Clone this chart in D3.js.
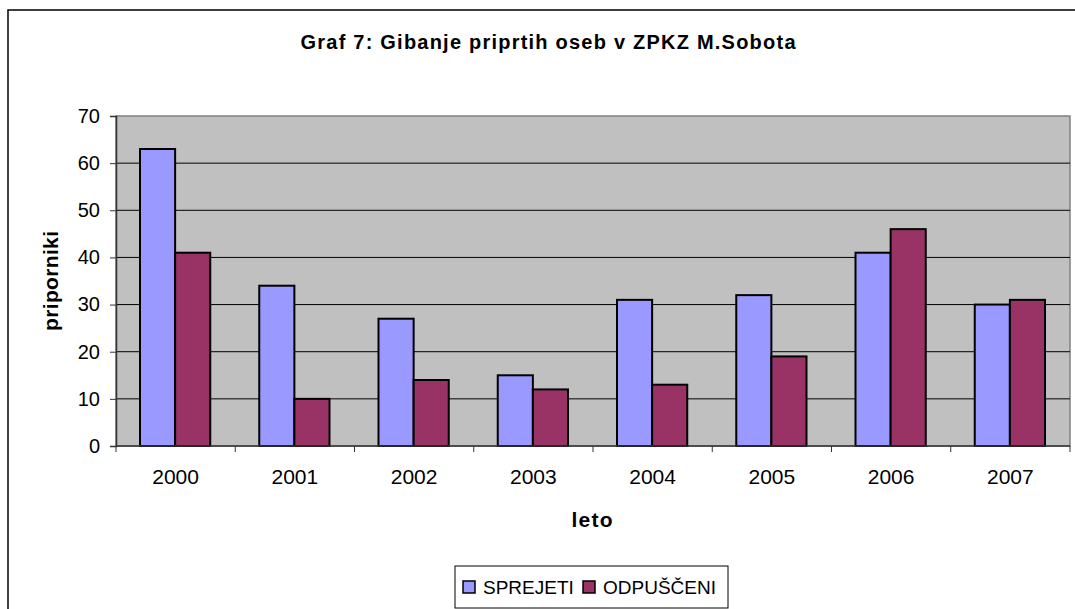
<!DOCTYPE html>
<html>
<head>
<meta charset="utf-8">
<script src="https://cdn.jsdelivr.net/npm/d3@7"></script>
<style>
  body { margin: 0; background: #fff; }
  text { font-family: Arial, "Liberation Sans", sans-serif; fill: #000; }
</style>
</head>
<body>
<div id="chart"></div>
<script>
// chart data
const years = ['2000', '2001', '2002', '2003', '2004', '2005', '2006', '2007'];
const seriesNames = ['SPREJETI', 'ODPUŠČENI'];
const sprejeti = [63, 34, 27, 15, 31, 32, 41, 30];
const odpusceni = [41, 10, 14, 12, 13, 19, 46, 31];
const yTicks = [0, 10, 20, 30, 40, 50, 60, 70];
const colors = ['#9999ff', '#993366'];

const width = 1075, height = 609;
const plot = { left: 116, top: 116, right: 1070, bottom: 446 };

const svg = d3.select('#chart').append('svg')
    .attr('width', width)
    .attr('height', height);

// outer chart frame (runs off the right and bottom edge)
svg.append('rect')
    .attr('x', 8).attr('y', 10)
    .attr('width', 1100).attr('height', 700)
    .attr('fill', '#fff')
    .attr('stroke', '#000')
    .attr('stroke-width', 1.5);

const x = d3.scaleBand()
    .domain(years)
    .range([plot.left, plot.right]);

const xInner = d3.scaleBand()
    .domain(seriesNames)
    .range([24, x.bandwidth() - 25]);

const y = d3.scaleLinear()
    .domain([0, 70])
    .range([plot.bottom, plot.top]);

// plot background
svg.append('rect')
    .attr('x', plot.left).attr('y', plot.top)
    .attr('width', plot.right - plot.left)
    .attr('height', plot.bottom - plot.top)
    .attr('fill', '#c0c0c0')
    .attr('stroke', '#808080')
    .attr('stroke-width', 1.5);

// gridlines
svg.append('g')
    .selectAll('line')
    .data(yTicks.filter(d => d > 0 && d < 70))
    .join('line')
    .attr('x1', plot.left).attr('x2', plot.right)
    .attr('y1', d => y(d)).attr('y2', d => y(d))
    .attr('stroke', '#000')
    .attr('stroke-width', 1);

// bars
const rows = years.map((yr, i) => ({ year: yr, values: [sprejeti[i], odpusceni[i]] }));
svg.append('g')
    .selectAll('g')
    .data(rows)
    .join('g')
    .attr('transform', d => `translate(${x(d.year)},0)`)
    .selectAll('rect')
    .data(d => d.values.map((v, j) => ({ name: seriesNames[j], value: v, idx: j })))
    .join('rect')
    .attr('x', d => xInner(d.name))
    .attr('y', d => y(d.value))
    .attr('width', xInner.bandwidth())
    .attr('height', d => plot.bottom - y(d.value))
    .attr('fill', d => colors[d.idx])
    .attr('stroke', '#000')
    .attr('stroke-width', 2);

// y axis
const yAxis = svg.append('g')
    .attr('transform', `translate(${plot.left},0)`)
    .call(d3.axisLeft(y).tickValues(yTicks).tickSize(6).tickPadding(10));
yAxis.select('.domain').attr('stroke', '#333').attr('stroke-width', 1.5);
yAxis.selectAll('.tick line').attr('stroke', '#333');
yAxis.selectAll('.tick text')
    .style('font-size', '20px')
    .style('font-family', 'Arial, "Liberation Sans", sans-serif');

// x axis
const xTickPos = years.map(yr => x(yr)).concat([plot.right]);
const xAxis = svg.append('g');
xAxis.append('line')
    .attr('x1', plot.left).attr('x2', plot.right)
    .attr('y1', plot.bottom).attr('y2', plot.bottom)
    .attr('stroke', '#333').attr('stroke-width', 1.5);
xAxis.selectAll('line.tick')
    .data(xTickPos)
    .join('line')
    .attr('class', 'tick')
    .attr('x1', d => d).attr('x2', d => d)
    .attr('y1', plot.bottom).attr('y2', plot.bottom + 6)
    .attr('stroke', '#333');
xAxis.selectAll('text')
    .data(years)
    .join('text')
    .attr('x', d => x(d) + x.bandwidth() / 2)
    .attr('y', 484)
    .attr('text-anchor', 'middle')
    .style('font-size', '21px')
    .text(d => d);

// title
svg.append('text')
    .attr('x', 548).attr('y', 49)
    .attr('text-anchor', 'middle')
    .attr('textLength', 495)
    .style('font-size', '20px')
    .style('font-weight', 'bold')
    .text('Graf 7: Gibanje priprtih oseb v ZPKZ M.Sobota');

// axis titles
svg.append('text')
    .attr('x', 592).attr('y', 527)
    .attr('text-anchor', 'middle')
    .attr('textLength', 41)
    .style('font-size', '21px')
    .style('font-weight', 'bold')
    .text('leto');

svg.append('text')
    .attr('transform', `translate(58,${(plot.top + plot.bottom) / 2}) rotate(-90)`)
    .attr('text-anchor', 'middle')
    .attr('textLength', 100)
    .style('font-size', '21px')
    .style('font-weight', 'bold')
    .text('priporniki');

// legend
const legend = svg.append('g');
legend.append('rect')
    .attr('x', 455).attr('y', 566)
    .attr('width', 273).attr('height', 42)
    .attr('fill', '#fff')
    .attr('stroke', '#000')
    .attr('stroke-width', 1);
const legendX = [463, 583];
seriesNames.forEach((name, i) => {
    legend.append('rect')
        .attr('x', legendX[i]).attr('y', 581)
        .attr('width', 12).attr('height', 12)
        .attr('fill', colors[i])
        .attr('stroke', '#000')
        .attr('stroke-width', 1.5);
    legend.append('text')
        .attr('x', legendX[i] + 20).attr('y', 594)
        .style('font-size', '19px')
        .text(name);
});
</script>
</body>
</html>
